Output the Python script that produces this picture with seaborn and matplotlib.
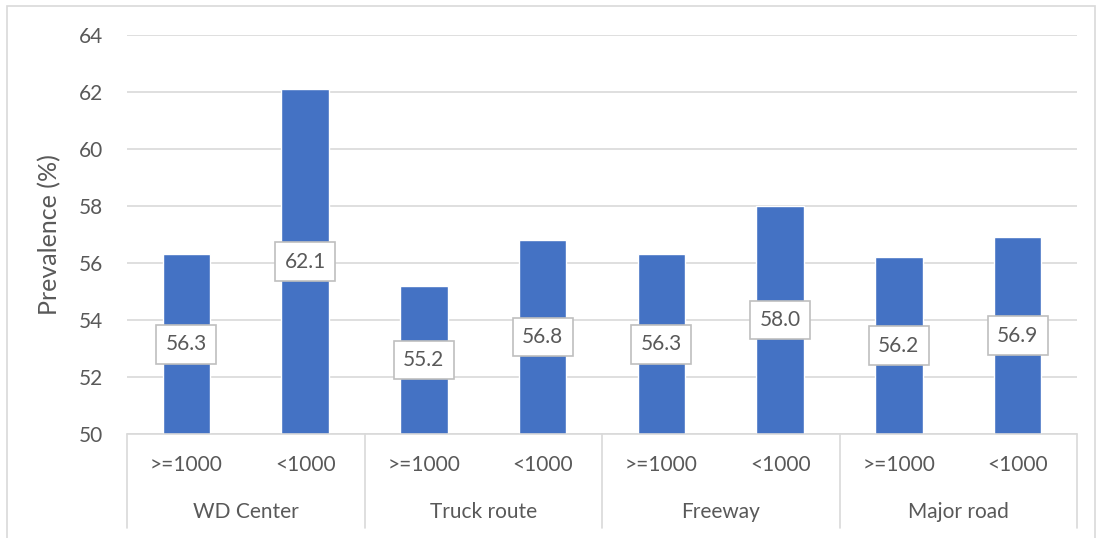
import pandas as pd
import numpy as np
import matplotlib.pyplot as plt
import matplotlib.transforms as mtransforms
from matplotlib.patches import Rectangle
import seaborn as sns

# Données
groups = ['WD Center', 'Truck route', 'Freeway', 'Major road']
subs = ['>=1000', '<1000']
values = [56.3, 62.1, 55.2, 56.8, 56.3, 58.0, 56.2, 56.9]

data = pd.DataFrame({
    'group': np.repeat(groups, 2),
    'sub': subs * len(groups),
    'value': values,
})
data['key'] = data['group'] + ' ' + data['sub']

sns.set_style('white')
plt.rcParams['font.family'] = ['Lato', 'DejaVu Sans']
text_col = '#595959'
grid_col = '#D9D9D9'
fs = 15

fig = plt.figure(figsize=(10.97, 5.38), dpi=100)
ax = fig.add_axes([127 / 1097, 1 - 434 / 538, 950 / 1097, 399 / 538])

sns.barplot(data=data, x='key', y='value', order=list(data['key']),
            color='#4472C4', saturation=1, width=0.4, ax=ax)

ax.set_ylim(50, 64)
ax.set_xlim(-0.5, len(values) - 0.5)
ax.set_yticks(np.arange(50, 65, 2))
ax.yaxis.grid(True, color=grid_col, linewidth=1.2)
ax.set_axisbelow(True)
ax.tick_params(axis='y', length=0, labelsize=fs, labelcolor=text_col, pad=17)
ax.set_xticks([])
ax.set_xlabel('')
ax.set_ylabel('Prevalence (%)', fontsize=18, color=text_col, labelpad=13)
for s in ax.spines.values():
    s.set_visible(False)

# étiquettes de valeurs
for i, v in enumerate(values):
    ax.text(i, (v + 50) / 2, f'{v:.1f}', ha='center', va='center',
            fontsize=fs, color=text_col,
            bbox=dict(boxstyle='square,pad=0.45', fc='white', ec='#BFBFBF', lw=1.2))

# axe des catégories à deux niveaux
trans = mtransforms.blended_transform_factory(ax.transData, ax.transAxes)
ax.plot([-0.5, len(values) - 0.5], [0, 0], color=grid_col, lw=1.2,
        transform=trans, clip_on=False)
for b in np.arange(-0.5, len(values), 2):
    ax.plot([b, b], [0, -0.236], color=grid_col, lw=1.2,
            transform=trans, clip_on=False)
for i, s in enumerate(data['sub']):
    ax.text(i, -0.078, s, ha='center', va='center', fontsize=fs,
            color=text_col, transform=trans)
for g, name in enumerate(groups):
    ax.text(2 * g + 0.5, -0.196, name, ha='center', va='center', fontsize=fs,
            color=text_col, transform=trans)

# cadre du graphique
fig.patches.append(Rectangle((7 / 1097, -0.1), 1088 / 1097, 1.1 - 6 / 538,
                             transform=fig.transFigure, fill=False,
                             ec=grid_col, lw=1.2))

plt.savefig('out.png', dpi=100)
